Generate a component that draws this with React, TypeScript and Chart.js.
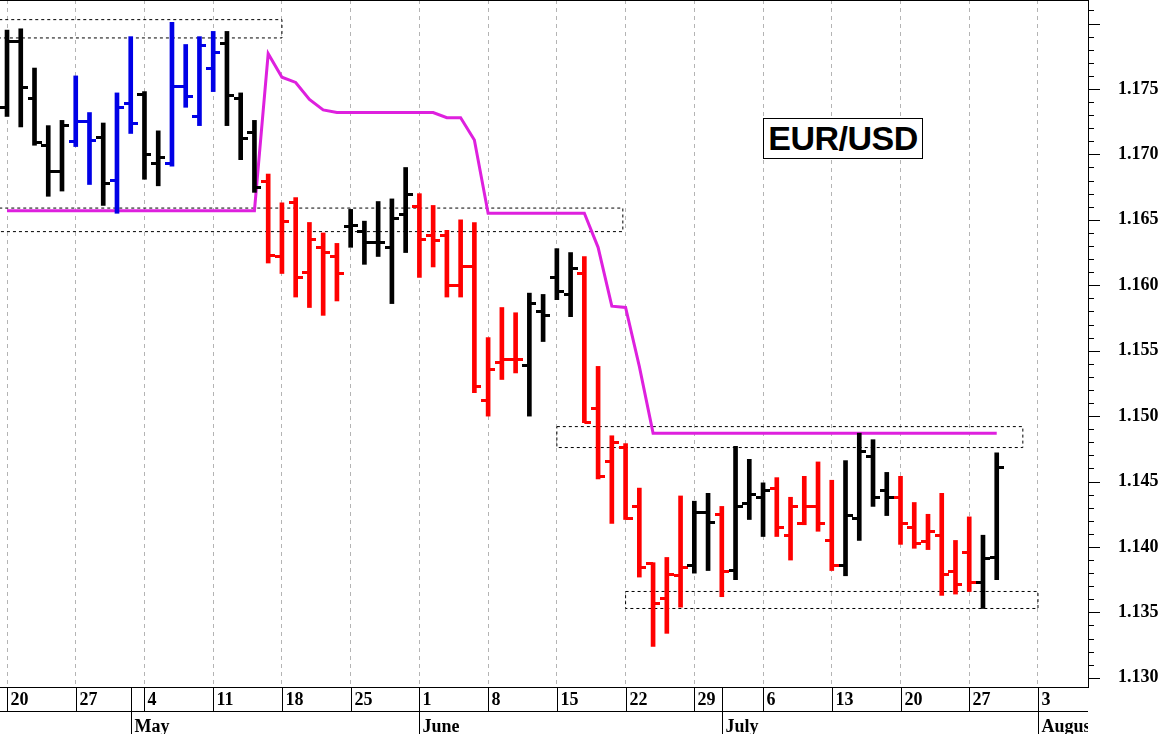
import React, { useEffect, useRef } from 'react';
import { Chart, registerables } from 'chart.js';

Chart.register(...registerables);

// daily bars, index 0 = Monday 20 April (trading days only)
const opens = [
  1.1736, 1.1786, 1.1743, 1.1707, 1.1687, 1.1710, 1.1725, 1.1713, 1.1680, 1.1739,
  1.1746, 1.1693, 1.1693, 1.1752, 1.1729, 1.1766, 1.1785, 1.1743, 1.1717, 1.1679,
  1.1622, 1.1663, 1.1610, 1.1629, 1.1622, 1.1645, 1.1641, 1.1633, 1.1629, 1.1654,
  1.1660, 1.1638, 1.1638, 1.1600, 1.1614, 1.1512, 1.1541, 1.1543, 1.1539, 1.1580,
  1.1606, 1.1593, 1.1609, 1.1506, 1.1465, 1.1476, 1.1431, 1.1387, 1.1361, 1.1378,
  1.1386, 1.1426, 1.1425, 1.1382, 1.1433, 1.1438, 1.1445, 1.1409, 1.1418, 1.1431,
  1.1405, 1.1386, 1.1422, 1.1469, 1.1443, 1.1438, 1.1415, 1.1404, 1.1409, 1.1381,
  1.1396, 1.1373, 1.1392,
];
const highs = [
  1.1795, 1.1796, 1.1766, 1.1722, 1.1726, 1.1760, 1.1732, 1.1724, 1.1747, 1.1790,
  1.1748, 1.1718, 1.1801, 1.1784, 1.1790, 1.1794, 1.1794, 1.1747, 1.1726, 1.1685,
  1.1663, 1.1667, 1.1648, 1.1640, 1.1632, 1.1658, 1.1649, 1.1664, 1.1666, 1.1690,
  1.1670, 1.1661, 1.1642, 1.1650, 1.1648, 1.1560, 1.1583, 1.1579, 1.1594, 1.1593,
  1.1628, 1.1625, 1.1622, 1.1538, 1.1485, 1.1479, 1.1445, 1.1388, 1.1392, 1.1439,
  1.1435, 1.1441, 1.1431, 1.1477, 1.1467, 1.1449, 1.1453, 1.1438, 1.1454, 1.1465,
  1.1451, 1.1466, 1.1487, 1.1482, 1.1457, 1.1454, 1.1434, 1.1425, 1.1441, 1.1405,
  1.1423, 1.1409, 1.1472,
];
const lows = [
  1.1729, 1.1721, 1.1707, 1.1668, 1.1672, 1.1706, 1.1677, 1.1661, 1.1655, 1.1716,
  1.1681, 1.1676, 1.1691, 1.1736, 1.1722, 1.1748, 1.1722, 1.1696, 1.1671, 1.1617,
  1.1609, 1.1591, 1.1583, 1.1577, 1.1588, 1.1629, 1.1616, 1.1622, 1.1586, 1.1625,
  1.1606, 1.1614, 1.1591, 1.1591, 1.1518, 1.1500, 1.1528, 1.1533, 1.1500, 1.1557,
  1.1589, 1.1576, 1.1495, 1.1452, 1.1418, 1.1421, 1.1377, 1.1324, 1.1334, 1.1354,
  1.1380, 1.1382, 1.1362, 1.1375, 1.1421, 1.1408, 1.1408, 1.1390, 1.1417, 1.1412,
  1.1382, 1.1378, 1.1405, 1.1431, 1.1424, 1.1402, 1.1399, 1.1398, 1.1363, 1.1364,
  1.1366, 1.1353, 1.1375,
];
const closes = [
  1.1786, 1.1751, 1.1709, 1.1687, 1.1722, 1.1725, 1.1711, 1.1678, 1.1736, 1.1724,
  1.1700, 1.1698, 1.1752, 1.1744, 1.1783, 1.1778, 1.1745, 1.1712, 1.1675, 1.1623,
  1.1649, 1.1606, 1.1635, 1.1625, 1.1609, 1.1646, 1.1633, 1.1633, 1.1651, 1.1669,
  1.1635, 1.1634, 1.1600, 1.1614, 1.1523, 1.1536, 1.1543, 1.1543, 1.1586, 1.1577,
  1.1595, 1.1613, 1.1495, 1.1454, 1.1480, 1.1422, 1.1384, 1.1357, 1.1379, 1.1384,
  1.1426, 1.1419, 1.1381, 1.1431, 1.1440, 1.1443, 1.1415, 1.1431, 1.1431, 1.1418,
  1.1386, 1.1424, 1.1473, 1.1438, 1.1438, 1.1418, 1.1403, 1.1412, 1.1379, 1.1371,
  1.1373, 1.1391, 1.1461,
];
// k = black, b = blue, r = red
const barColors = [
  'k', 'k', 'k', 'k', 'k', 'b', 'b', 'k', 'b', 'b',
  'k', 'k', 'b', 'b', 'b', 'b', 'k', 'k', 'k', 'r',
  'r', 'r', 'r', 'r', 'r', 'k', 'k', 'k', 'k', 'k',
  'r', 'r', 'r', 'r', 'r', 'r', 'r', 'r', 'k', 'k',
  'k', 'k', 'r', 'r', 'r', 'r', 'r', 'r', 'r', 'r',
  'k', 'k', 'r', 'k', 'k', 'k', 'r', 'r', 'r', 'r',
  'r', 'k', 'k', 'k', 'k', 'r', 'r', 'r', 'r', 'r',
  'r', 'k', 'k',
];
// magenta stop line
const stopLine = [
  1.1657, 1.1657, 1.1657, 1.1657, 1.1657, 1.1657, 1.1657, 1.1657, 1.1657, 1.1657,
  1.1657, 1.1657, 1.1657, 1.1657, 1.1657, 1.1657, 1.1657, 1.1657, 1.1657, 1.1777,
  1.1759, 1.1755, 1.1742, 1.1734, 1.1732, 1.1732, 1.1732, 1.1732, 1.1732, 1.1732,
  1.1732, 1.1732, 1.1728, 1.1728, 1.1711, 1.1655, 1.1655, 1.1655, 1.1655, 1.1655,
  1.1655, 1.1655, 1.1655, 1.1629, 1.1584, 1.1583, 1.1538, 1.1487, 1.1487, 1.1487,
  1.1487, 1.1487, 1.1487, 1.1487, 1.1487, 1.1487, 1.1487, 1.1487, 1.1487, 1.1487,
  1.1487, 1.1487, 1.1487, 1.1487, 1.1487, 1.1487, 1.1487, 1.1487, 1.1487, 1.1487,
  1.1487, 1.1487, 1.1487,
];

// dashed zones
const boxStart = [-1, -1, 40, 45];
const boxEnd = [20, 44.8, 73.9, 75];
const boxTop = [1.1803, 1.1659, 1.1492, 1.1366];
const boxBottom = [1.1789, 1.1641, 1.1476, 1.1353];

const weekTickIdx = [0, 5, 10, 15, 20, 25, 30, 35, 40, 45, 50, 55, 60, 65, 70, 75];
const weekLabels = ['20', '27', '4', '11', '18', '25', '1', '8', '15', '22', '29', '6', '13', '20', '27', '3'];
const monthTickIdx = [9, 30, 52, 75];
const monthLabels = ['May', 'June', 'July', 'August'];
const yTickValues = [1.13, 1.135, 1.14, 1.145, 1.15, 1.155, 1.16, 1.165, 1.17, 1.175];

const colorMap: Record<string, string> = { k: '#000000', b: '#0000e6', r: '#ff0000' };
const axisFont = 'bold 18px "Liberation Serif", "Times New Roman", serif';

function makeTick(color: string, side: 'open' | 'close') {
  const c = document.createElement('canvas');
  c.width = 14;
  c.height = 3;
  const g = c.getContext('2d')!;
  g.fillStyle = color;
  g.fillRect(side === 'open' ? 0 : 7, 0, 7, 3);
  return c;
}

const axisRowsPlugin = {
  id: 'axisRows',
  afterDraw(chart: any) {
    const { ctx, chartArea, scales } = chart;
    const xs = scales.x;
    const ys = scales.y;
    const { left, right, top, bottom } = chartArea;
    const rowMid = bottom + 24;
    const rowEnd = chart.height;
    const line = (x1: number, y1: number, x2: number, y2: number) => {
      ctx.beginPath();
      ctx.moveTo(x1, y1);
      ctx.lineTo(x2, y2);
      ctx.stroke();
    };
    ctx.save();
    ctx.strokeStyle = '#000';
    ctx.lineWidth = 1;
    line(left, top + 0.5, right, top + 0.5);
    line(left, bottom + 0.5, right, bottom + 0.5);
    line(left, rowMid + 0.5, right, rowMid + 0.5);
    // price axis tick marks (minor every 0.001)
    for (let k = 1130; k <= 1181; k++) {
      const y = Math.round(ys.getPixelForValue(k / 1000)) + 0.5;
      line(right, y, right + (k % 5 === 0 ? 12 : 6), y);
    }
    ctx.beginPath();
    ctx.rect(left, bottom, right - left, rowEnd - bottom);
    ctx.clip();
    ctx.font = axisFont;
    ctx.fillStyle = '#000';
    ctx.textAlign = 'left';
    ctx.textBaseline = 'alphabetic';
    weekTickIdx.forEach((d, i) => {
      const x = Math.round(xs.getPixelForValue(d)) + 0.5;
      line(x, bottom, x, rowMid);
      ctx.fillText(weekLabels[i], x + 3, bottom + 18);
    });
    monthTickIdx.forEach((d, i) => {
      const x = Math.round(xs.getPixelForValue(d)) + 0.5;
      line(x, bottom, x, rowEnd);
      ctx.fillText(monthLabels[i], x + 3, rowEnd - 2);
    });
    ctx.restore();
  },
};

const App: React.FC = () => {
  const chartRef = useRef<HTMLCanvasElement | null>(null);

  useEffect(() => {
    if (!chartRef.current) return;
    const ctx = chartRef.current.getContext('2d');
    if (!ctx) return;

    const openImg: Record<string, HTMLCanvasElement> = {};
    const closeImg: Record<string, HTMLCanvasElement> = {};
    Object.keys(colorMap).forEach((k) => {
      openImg[k] = makeTick(colorMap[k], 'open');
      closeImg[k] = makeTick(colorMap[k], 'close');
    });

    const boxSets = boxStart.map((x0, i) => ({
      type: 'line' as const,
      data: [
        { x: x0, y: boxTop[i] },
        { x: boxEnd[i], y: boxTop[i] },
        { x: boxEnd[i], y: boxBottom[i] },
        { x: x0, y: boxBottom[i] },
        { x: x0, y: boxTop[i] },
      ],
      borderColor: '#000',
      borderWidth: 1,
      borderDash: [3, 3],
      pointRadius: 0,
      fill: false,
      order: 3,
    }));

    const chart = new Chart(ctx, {
      type: 'bar',
      data: {
        datasets: [
          {
            type: 'scatter',
            data: opens.map((v, i) => ({ x: i, y: v })),
            pointStyle: (c: any) => openImg[barColors[c.dataIndex]],
            pointRadius: 1,
            pointHoverRadius: 1,
            order: 0,
          },
          {
            type: 'scatter',
            data: closes.map((v, i) => ({ x: i, y: v })),
            pointStyle: (c: any) => closeImg[barColors[c.dataIndex]],
            pointRadius: 1,
            pointHoverRadius: 1,
            order: 0,
          },
          {
            type: 'bar',
            data: lows.map((v, i) => ({ x: i, y: [v, highs[i]] })),
            backgroundColor: barColors.map((c) => colorMap[c]),
            borderWidth: 0,
            barThickness: 4,
            order: 1,
          },
          {
            type: 'line',
            data: stopLine.map((v, i) => ({ x: i, y: v })),
            borderColor: 'rgb(222, 32, 222)',
            borderWidth: 3,
            pointRadius: 0,
            tension: 0,
            fill: false,
            order: 2,
          },
          ...boxSets,
        ] as any,
      },
      options: {
        animation: false,
        responsive: false,
        events: [],
        layout: { padding: 0, autoPadding: false },
        plugins: {
          legend: { display: false },
          tooltip: { enabled: false },
        },
        scales: {
          x: {
            type: 'linear',
            offset: false,
            min: -0.51,
            max: 78.64,
            afterBuildTicks: (s: any) => {
              s.ticks = weekTickIdx.map((v) => ({ value: v }));
            },
            afterFit: (s: any) => {
              s.height = 47;
              s.paddingLeft = 0;
              s.paddingRight = 0;
            },
            ticks: { display: false },
            grid: { color: '#b4b4b4', lineWidth: 1, drawTicks: false, offset: false },
            border: { display: false, dash: [4, 4] },
          },
          y: {
            type: 'linear',
            position: 'right',
            min: 1.1293,
            max: 1.1818,
            afterBuildTicks: (s: any) => {
              s.ticks = yTickValues.map((v) => ({ value: v }));
            },
            afterFit: (s: any) => {
              s.width = 71;
              s.paddingTop = 0;
              s.paddingBottom = 0;
            },
            ticks: {
              autoSkip: false,
              padding: 22,
              color: '#000',
              font: { family: '"Liberation Serif", "Times New Roman", serif', size: 18, weight: 'bold' },
              callback: (v: any) => Number(v).toFixed(3),
            },
            grid: { display: false },
            border: { display: true, color: '#000', width: 1 },
          },
        },
      } as any,
      plugins: [axisRowsPlugin],
    });

    return () => {
      chart.destroy();
    };
  }, []);

  return (
    <div style={{ position: 'fixed', left: 0, top: 0, width: 1159, height: 734, background: '#fff' }}>
      <canvas ref={chartRef} width={1159} height={734} style={{ display: 'block' }}></canvas>
      <div
        style={{
          position: 'absolute',
          left: 763,
          top: 118,
          width: 160,
          height: 41,
          boxSizing: 'border-box',
          border: '1.5px solid #000',
          background: '#fff',
          display: 'flex',
          alignItems: 'center',
          justifyContent: 'center',
          font: 'bold 34px "Liberation Sans", Arial, sans-serif',
          color: '#000',
          letterSpacing: '-0.5px',
        }}
      >
        EUR/USD
      </div>
    </div>
  );
};

export default App;
